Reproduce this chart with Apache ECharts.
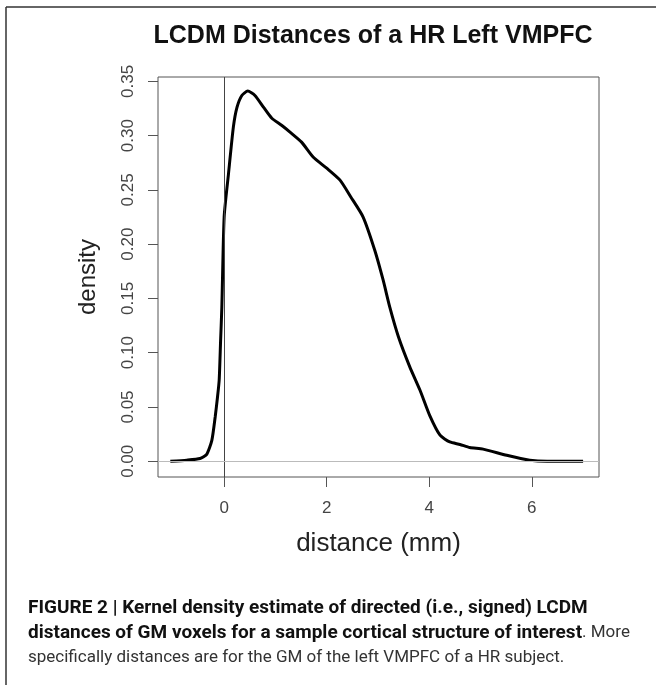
<!DOCTYPE html>
<html>
<head>
    <meta charset="utf-8">
    <title>LCDM Distances</title>
    <script src="https://cdn.jsdelivr.net/npm/echarts@6/dist/echarts.min.js"></script>
    <style>
        body { margin: 0; background: #fff; }
    </style>
</head>
<body>
    <div id="main" style="width: 656px;height:685px;"></div>
<script type="text/javascript">
    var myChart = echarts.init(document.getElementById('main'));

// density curve
var distance = [-1.05, -0.73, -0.47, -0.34, -0.24, -0.175, -0.13, -0.097, -0.07, -0.045,
    0, 0.085, 0.18, 0.25, 0.345, 0.46, 0.60, 0.77, 0.93, 1.12,
    1.29, 1.51, 1.74, 2.0, 2.26, 2.47, 2.71, 2.94, 3.10, 3.23,
    3.40, 3.62, 3.82, 4.01, 4.21, 4.40, 4.60, 4.79, 5.05, 5.51,
    5.96, 6.3, 7.0];
var density = [0, 0.001, 0.0025, 0.0064, 0.0193, 0.0408, 0.059, 0.0746, 0.11, 0.142,
    0.225, 0.265, 0.308, 0.326, 0.337, 0.341, 0.337, 0.326, 0.316, 0.3095,
    0.303, 0.294, 0.280, 0.270, 0.259, 0.2435, 0.225, 0.194, 0.167, 0.142,
    0.1145, 0.087, 0.0654, 0.042, 0.024, 0.0178, 0.0155, 0.0126, 0.0112, 0.0055,
    0.001, 0, 0];

var xTicks = [0, 2, 4, 6];
var yTicks = [0, 0.05, 0.10, 0.15, 0.20, 0.25, 0.30, 0.35];

var points = [];
for (var i = 0; i < distance.length; i++) {
    points.push([distance[i], density[i]]);
}

var captionFont = "Roboto, 'Liberation Sans', sans-serif";

option = {
    animation: false,
    backgroundColor: '#fff',
    grid: {
        left: 158, right: 57, top: 77, bottom: 208,
        show: true, borderColor: '#555', borderWidth: 1
    },
    xAxis: {
        type: 'value',
        min: -1.29,
        max: 7.31,
        name: 'distance (mm)',
        nameLocation: 'middle',
        nameGap: 54,
        nameTextStyle: { fontFamily: 'Liberation Sans, Arial', fontSize: 26, color: '#222' },
        axisLine: { show: false, onZero: false },
        splitLine: { show: false },
        axisTick: { show: true, inside: false, length: 10, lineStyle: { color: '#555' }, customValues: xTicks },
        axisLabel: { customValues: xTicks, margin: 23, fontFamily: 'Liberation Sans, Arial', fontSize: 17, color: '#444' }
    },
    yAxis: {
        type: 'value',
        min: -0.0145,
        max: 0.354,
        name: 'density',
        nameLocation: 'middle',
        nameGap: 58,
        nameRotate: 90,
        nameTextStyle: { fontFamily: 'Liberation Sans, Arial', fontSize: 24, color: '#222' },
        axisLine: { show: false, onZero: false },
        splitLine: { show: false },
        axisTick: { show: true, inside: false, length: 10, lineStyle: { color: '#555' }, customValues: yTicks },
        axisLabel: {
            customValues: yTicks, rotate: 90, margin: 21,
            fontFamily: 'Liberation Sans, Arial', fontSize: 17, color: '#444',
            formatter: function (v) { return v.toFixed(2); }
        }
    },
    series: [
        {
            name: 'density',
            type: 'line',
            symbol: 'none',
            smooth: 0.2,
            lineStyle: { color: '#000', width: 3 },
            data: points,
            markLine: {
                silent: true,
                symbol: 'none',
                label: { show: false },
                data: [
                    { xAxis: 0, lineStyle: { color: '#444', width: 1, type: 'solid' } },
                    { yAxis: 0, lineStyle: { color: '#bbb', width: 1, type: 'solid' } }
                ]
            },
            z: 3
        }
    ],
    graphic: [
        // frame of the figure panel
        { type: 'line', shape: { x1: 6, y1: 7, x2: 656, y2: 7 }, style: { stroke: '#333', lineWidth: 1.5 } },
        { type: 'line', shape: { x1: 6, y1: 7, x2: 6, y2: 685 }, style: { stroke: '#333', lineWidth: 1.5 } },
        {
            type: 'text', x: 373, y: 36,
            style: {
                text: 'LCDM Distances of a HR Left VMPFC',
                font: "bold 25px 'Liberation Sans', Arial",
                fill: '#111', textAlign: 'center', textVerticalAlign: 'middle'
            }
        },
        {
            type: 'text', x: 28, y: 608,
            style: {
                text: 'FIGURE 2 | Kernel density estimate of directed (i.e., signed) LCDM',
                font: 'bold 19px ' + captionFont,
                fill: '#111', textVerticalAlign: 'middle'
            }
        },
        {
            type: 'text', x: 28, y: 633,
            style: {
                text: '{b|distances of GM voxels for a sample cortical structure of interest}{r|. More}',
                textVerticalAlign: 'middle',
                rich: {
                    b: { fontWeight: 'bold', fontSize: 19, fontFamily: captionFont, fill: '#111' },
                    r: { fontSize: 17, fontFamily: captionFont, fill: '#333' }
                }
            }
        },
        {
            type: 'text', x: 28, y: 658,
            style: {
                text: 'specifically distances are for the GM of the left VMPFC of a HR subject.',
                font: '17px ' + captionFont,
                fill: '#333', textVerticalAlign: 'middle'
            }
        }
    ]
};

    myChart.setOption(option);
</script>
</body>
</html>
